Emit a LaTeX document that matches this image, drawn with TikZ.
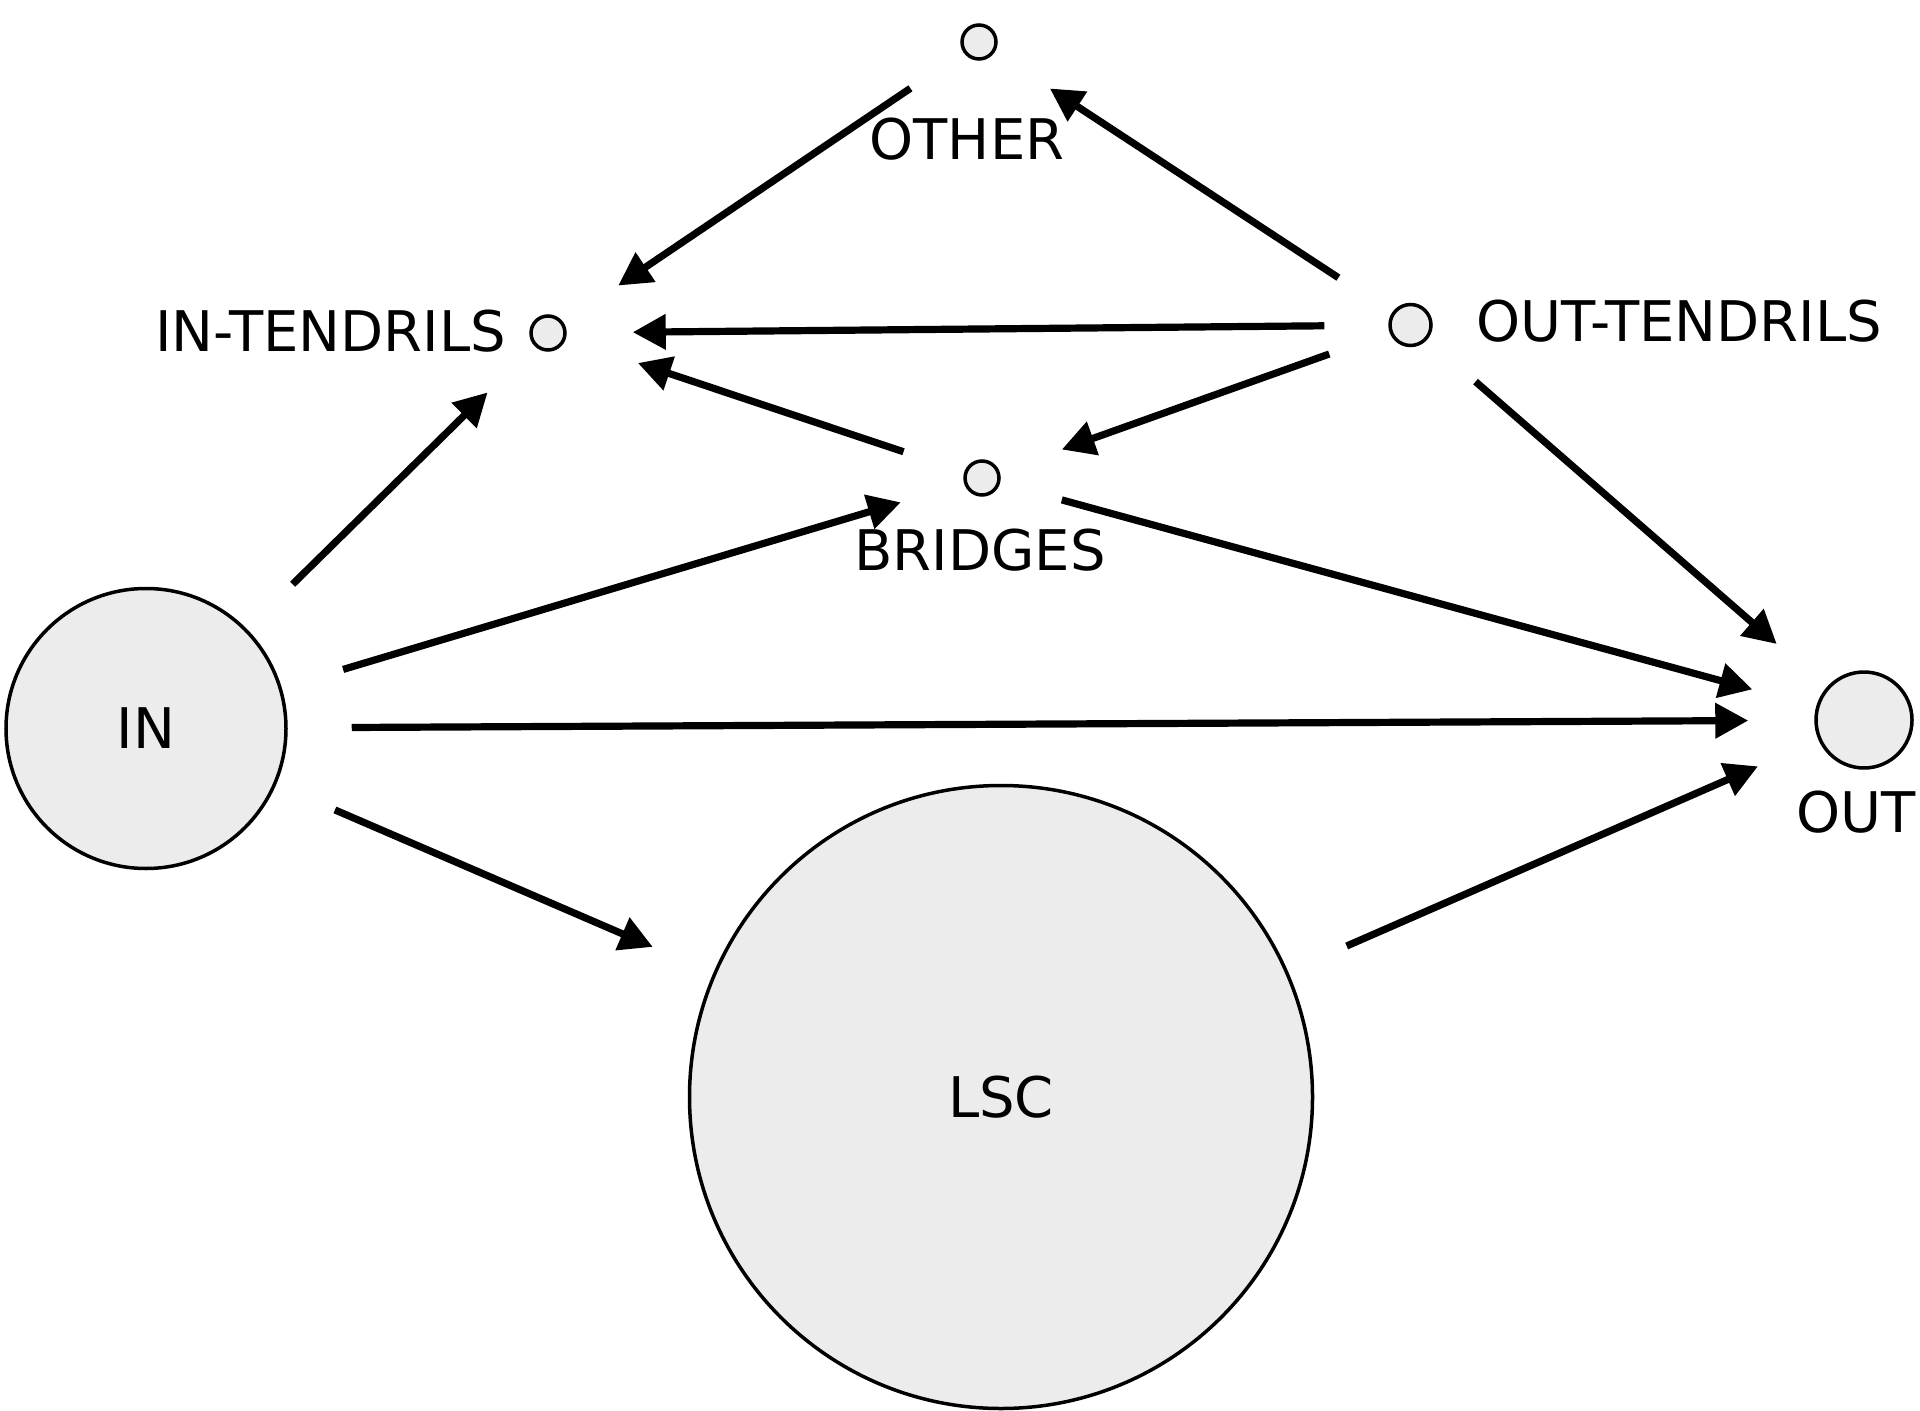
\documentclass[tikz,border=0pt]{standalone}
\usepackage{fontspec}
\setmainfont{DejaVu Sans}
\usetikzlibrary{arrows.meta}
\definecolor{compgray}{RGB}{236,236,236}

\begin{document}
\begin{tikzpicture}
[every node/.style={inner sep=0pt, font=\fontsize{28}{34}\selectfont},
 comp/.style={circle, fill=compgray, line width=1.75pt, draw=black},
 flow/.style={line width=3.6pt, -{Triangle[length=16.5pt, width=17pt]}, color=black, shorten <=32pt, shorten >=33pt}]
\useasboundingbox (0pt, 0pt) rectangle (960pt, -705.5pt);
\node (other) [comp, minimum size=17pt] at (489.5pt, -21pt) {};
\node (intendrils) [comp, minimum size=17pt] at (274pt, -166.5pt) {};
\node (outtendrils) [comp, minimum size=20.5pt] at (705.25pt, -162.5pt) {};
\node (bridges) [comp, minimum size=17pt] at (491pt, -239pt) {};
\node (in) [comp, minimum size=140pt] at (73pt, -364.25pt) {IN};
\node (out) [comp, minimum size=48pt] at (932pt, -360pt) {};
\node (lsc) [comp, minimum size=311.5pt] at (500.5pt, -548.5pt) {LSC};
\node (otherlbl) at (483.5pt, -69.5pt) {OTHER};
\node (intendrilslbl) at (165.3pt, -165.5pt) {IN-TENDRILS};
\node (outtendrilslbl) at (839.5pt, -160.5pt) {OUT-TENDRILS};
\node (bridgeslbl) at (490pt, -275pt) {BRIDGES};
\node (outlbl) at (928pt, -406pt) {OUT};
\draw [flow] (other) to (intendrils);
\draw [flow] (outtendrils) to (other);
\draw [flow] (outtendrils) to (intendrils);
\draw [flow] (outtendrils) to (bridges);
\draw [flow, shorten >=38pt] (bridges) to (intendrils);
\draw [flow] (outtendrils) to (out);
\draw [flow] (in) to (intendrils);
\draw [flow] (in) to (bridges);
\draw [flow] (bridges) to (out);
\draw [flow] (in) to (out);
\draw [flow] (in) to (lsc);
\draw [flow] (lsc) to (out);
\end{tikzpicture}
\end{document}
